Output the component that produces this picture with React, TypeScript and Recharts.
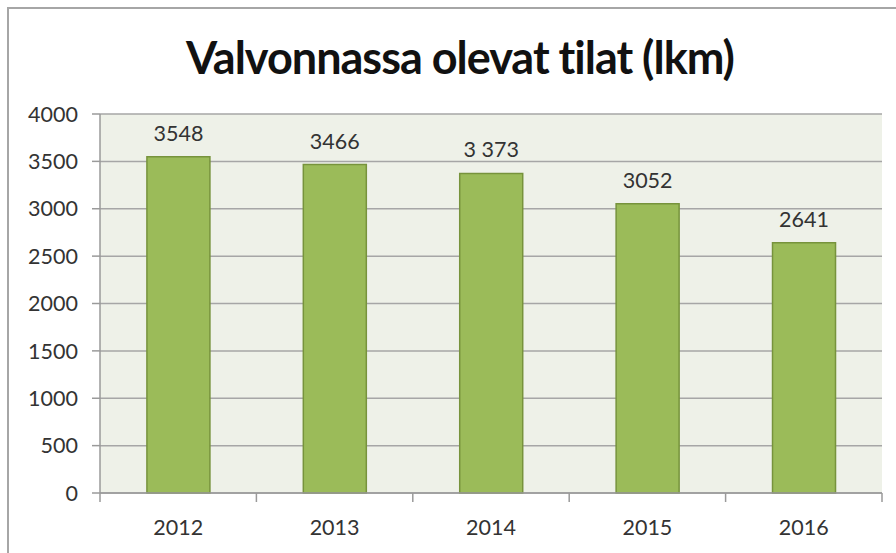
import { Bar, BarChart, CartesianGrid, LabelList, XAxis, YAxis } from "recharts";

const years = ["2012", "2013", "2014", "2015", "2016"];
const counts = [3548, 3466, 3373, 3052, 2641];
const countLabels = ["3548", "3466", "3 373", "3052", "2641"];
const yTicks = [0, 500, 1000, 1500, 2000, 2500, 3000, 3500, 4000];

const data = years.map((year, i) => ({ year, count: counts[i], label: countLabels[i] }));

const FONT = "Lato, 'Open Sans', sans-serif";
const TICK_SIZE = 8;
const TICK_MARGIN = 12;

function YearTick(props: any) {
  const { x, y, payload, index, visibleTicksCount } = props;
  const half = payload.offset ?? 0;
  const axisY = y - TICK_SIZE - TICK_MARGIN;
  const isLast = index === visibleTicksCount - 1;
  return (
    <g>
      <line x1={x - half} x2={x - half} y1={axisY} y2={axisY + 9} stroke="#9a9a9a" strokeWidth={1.5} />
      {isLast && (
        <line x1={x + half} x2={x + half} y1={axisY} y2={axisY + 9} stroke="#9a9a9a" strokeWidth={1.5} />
      )}
      <text x={x} y={axisY + 42} textAnchor="middle" fill="#333" fontSize={21.5} fontFamily={FONT}>
        {payload.value}
      </text>
    </g>
  );
}

export default function App() {
  return (
    <div style={{ position: "absolute", left: 0, top: 0, width: 896, height: 553, background: "#fff" }}>
      <div
        style={{
          position: "absolute",
          left: 7,
          top: 7,
          width: 889,
          height: 546,
          borderTop: "2px solid #a6a6a6",
          borderLeft: "2px solid #a6a6a6",
        }}
      />
      <div
        style={{
          position: "absolute",
          left: 0,
          top: 30,
          width: 920,
          textAlign: "center",
          fontFamily: FONT,
          fontWeight: 700,
          fontSize: 45,
          letterSpacing: -1,
          color: "#111",
          lineHeight: "54px",
        }}
      >
        Valvonnassa olevat tilat (lkm)
      </div>
      <div style={{ position: "absolute", left: 0, top: 0 }}>
        <BarChart
          width={896}
          height={553}
          data={data}
          barCategoryGap="30%"
          margin={{ top: 114, right: 14, left: 0, bottom: 10 }}
        >
          <CartesianGrid vertical={false} stroke="#a6a6a6" strokeWidth={1.5} fill="#eef1e8" />
          <XAxis
            dataKey="year"
            height={50}
            tickLine={false}
            tickSize={TICK_SIZE}
            tickMargin={TICK_MARGIN}
            axisLine={{ stroke: "#9a9a9a", strokeWidth: 1.5 }}
            tick={<YearTick />}
            interval={0}
          />
          <YAxis
            width={100}
            domain={[0, 4000]}
            ticks={yTicks}
            interval={0}
            tickSize={8}
            tickMargin={14}
            tickLine={{ stroke: "#9a9a9a", strokeWidth: 1.5 }}
            axisLine={{ stroke: "#9a9a9a", strokeWidth: 1.5 }}
            tick={{ fill: "#333", fontSize: 21.5, fontFamily: FONT }}
          />
          <Bar dataKey="count" fill="#9bbb59" stroke="#77933c" strokeWidth={1.5} isAnimationActive={false}>
            <LabelList dataKey="label" position="top" offset={16} fill="#333" fontSize={21.5} fontFamily={FONT} />
          </Bar>
        </BarChart>
      </div>
    </div>
  );
}
